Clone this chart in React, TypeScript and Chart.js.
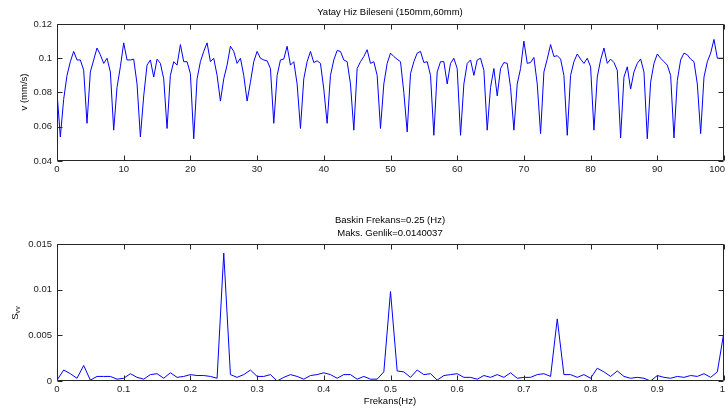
import React, { useEffect, useRef } from 'react';
import { Chart, registerables } from 'chart.js';
Chart.register(...registerables);

// ---- Data ----
const timeStep = 0.5; // s, sampling interval of the velocity record
const velocity = [
  0.080,
  0.054, 0.076, 0.090, 0.098, 0.104, 0.099, 0.099, 0.093,
  0.062, 0.092, 0.099, 0.106, 0.102, 0.097, 0.100, 0.092,
  0.058, 0.083, 0.095, 0.109, 0.099, 0.099, 0.0995, 0.085,
  0.054, 0.078, 0.096, 0.099, 0.089, 0.0995, 0.097, 0.088,
  0.059, 0.090, 0.098, 0.096, 0.108, 0.098, 0.098, 0.091,
  0.053, 0.088, 0.098, 0.104, 0.109, 0.098, 0.100, 0.090,
  0.075, 0.088, 0.096, 0.107, 0.104, 0.097, 0.100, 0.090,
  0.075, 0.086, 0.098, 0.104, 0.100, 0.099, 0.0985, 0.094,
  0.062, 0.090, 0.099, 0.0995, 0.107, 0.096, 0.098, 0.085,
  0.059, 0.088, 0.098, 0.104, 0.0975, 0.0985, 0.097, 0.082,
  0.062, 0.090, 0.099, 0.1045, 0.104, 0.099, 0.098, 0.085,
  0.058, 0.094, 0.098, 0.101, 0.105, 0.097, 0.098, 0.090,
  0.059, 0.085, 0.097, 0.103, 0.101, 0.0994, 0.098, 0.080,
  0.057, 0.091, 0.098, 0.103, 0.104, 0.0975, 0.098, 0.090,
  0.055, 0.092, 0.098, 0.098, 0.085, 0.097, 0.100, 0.094,
  0.055, 0.085, 0.097, 0.099, 0.090, 0.099, 0.100, 0.093,
  0.058, 0.083, 0.094, 0.078, 0.094, 0.0975, 0.097, 0.083,
  0.058, 0.085, 0.094, 0.110, 0.097, 0.0975, 0.1005, 0.085,
  0.056, 0.092, 0.0995, 0.108, 0.101, 0.1015, 0.0995, 0.090,
  0.055, 0.090, 0.098, 0.1025, 0.0995, 0.097, 0.100, 0.095,
  0.058, 0.089, 0.099, 0.106, 0.097, 0.0995, 0.0975, 0.093,
  0.0535, 0.089, 0.095, 0.082, 0.092, 0.097, 0.0996, 0.092,
  0.053, 0.086, 0.097, 0.1025, 0.100, 0.098, 0.096, 0.090,
  0.0535, 0.087, 0.099, 0.103, 0.102, 0.0995, 0.098, 0.085,
  0.056, 0.089, 0.098, 0.103, 0.111, 0.100, 0.100, 0.100,
];

const freqStep = 0.01; // Hz, spectral resolution
const spectrum = [
  0.0001, 0.0012, 0.0008, 0.0003, 0.0017, 0.0001, 0.0005, 0.0005, 0.0005, 0.0002,
  0.0003, 0.0008, 0.0004, 0.0002, 0.0007, 0.0008, 0.0003, 0.0009, 0.0004, 0.0005,
  0.0007, 0.0006, 0.0006, 0.0005, 0.0003, 0.0140037, 0.0007, 0.0004, 0.0007, 0.0012,
  0.0005, 0.0005, 0.0007, 0.0000, 0.0004, 0.0007, 0.0005, 0.0002, 0.0006, 0.0007,
  0.0009, 0.0007, 0.0003, 0.0007, 0.0007, 0.0002, 0.0005, 0.0002, 0.0002, 0.0010,
  0.0098, 0.0011, 0.0010, 0.0004, 0.0012, 0.0007, 0.0008, 0.0001, 0.0006, 0.0007,
  0.0008, 0.0004, 0.0004, 0.0002, 0.0006, 0.0004, 0.0007, 0.0004, 0.0009, 0.0003,
  0.0004, 0.0004, 0.0007, 0.0008, 0.0005, 0.0068, 0.0007, 0.0007, 0.0004, 0.0007,
  0.0003, 0.0014, 0.0010, 0.0005, 0.0011, 0.0005, 0.0003, 0.0004, 0.0003, 0.0000,
  0.0006, 0.0004, 0.0003, 0.0005, 0.0004, 0.0006, 0.0005, 0.0008, 0.0004, 0.0010,
  0.0054,
];

const xTicksTop = [0, 10, 20, 30, 40, 50, 60, 70, 80, 90, 100];
const yTicksTop = [0.04, 0.06, 0.08, 0.1, 0.12];
const xTicksBottom = [0, 0.1, 0.2, 0.3, 0.4, 0.5, 0.6, 0.7, 0.8, 0.9, 1];
const yTicksBottom = [0, 0.005, 0.01, 0.015];

const topTitle = 'Yatay Hiz Bileseni (150mm,60mm)';
const topYLabel = 'v (mm/s)';
const bottomTitle1 = 'Baskin Frekans=0.25 (Hz)';
const bottomTitle2 = 'Maks. Genlik=0.0140037';
const bottomXLabel = 'Frekans(Hz)';

const FONT = 'Arial, "Liberation Sans", Helvetica, sans-serif';
const TEXT = '#222';
const TICK_SIZE = 9.5;

type TextItem = { text: string; x: number; y: number; rot?: boolean; sub?: string; size?: number };

const framePlugin = {
  id: 'frame',
  afterDraw(chart: any, _args: any, opts: any) {
    const { ctx, chartArea: a, scales, width } = chart;
    const x = scales.x, y = scales.y;
    const L = Math.round(a.left) + 0.5, R = Math.round(a.right) - 0.5;
    const T = Math.round(a.top) + 0.5, B = Math.round(a.bottom) - 0.5;
    ctx.save();
    ctx.strokeStyle = '#262626';
    ctx.lineWidth = 1;
    ctx.beginPath();
    ctx.rect(L, T, R - L, B - T);
    const tl = 5;
    x.ticks.forEach((t: any) => {
      const p = Math.round(x.getPixelForValue(t.value)) + 0.5;
      ctx.moveTo(p, B); ctx.lineTo(p, B - tl);
      ctx.moveTo(p, T); ctx.lineTo(p, T + tl);
    });
    y.ticks.forEach((t: any) => {
      const p = Math.round(y.getPixelForValue(t.value)) + 0.5;
      ctx.moveTo(L, p); ctx.lineTo(L + tl, p);
      ctx.moveTo(R, p); ctx.lineTo(R - tl, p);
    });
    ctx.stroke();

    // x tick labels (kept inside the canvas)
    ctx.fillStyle = TEXT;
    ctx.font = `${TICK_SIZE}px ${FONT}`;
    ctx.textAlign = 'center';
    ctx.textBaseline = 'middle';
    x.ticks.forEach((t: any) => {
      const label = String(t.value);
      const w = ctx.measureText(label).width;
      let p = x.getPixelForValue(t.value);
      p = Math.min(p, width - 3 - w / 2);
      ctx.fillText(label, p, a.bottom + 8);
    });

    ctx.fillStyle = '#000';
    (opts.texts || []).forEach((it: TextItem) => {
      const size = it.size || 9.5;
      ctx.save();
      ctx.translate(it.x, it.y);
      if (it.rot) ctx.rotate(-Math.PI / 2);
      ctx.font = `${size}px ${FONT}`;
      ctx.textBaseline = 'middle';
      if (it.sub) {
        const w1 = ctx.measureText(it.text).width;
        ctx.font = `${size * 0.75}px ${FONT}`;
        const w2 = ctx.measureText(it.sub).width;
        const start = -(w1 + w2) / 2;
        ctx.font = `${size}px ${FONT}`;
        ctx.textAlign = 'left';
        ctx.fillText(it.text, start, 0);
        ctx.font = `${size * 0.75}px ${FONT}`;
        ctx.fillText(it.sub, start + w1, size * 0.35);
      } else {
        ctx.textAlign = 'center';
        ctx.fillText(it.text, 0, 0);
      }
      ctx.restore();
    });
    ctx.restore();
  },
};

function makeOptions(
  xMin: number, xMax: number, xTicks: number[],
  yMin: number, yMax: number, yTicks: number[],
  padTop: number, xAxisHeight: number, texts: TextItem[],
): any {
  return {
    responsive: false,
    animation: false,
    events: [],
    layout: { padding: { left: 0, right: 4, top: padTop, bottom: 0 } },
    plugins: {
      legend: { display: false },
      tooltip: { enabled: false },
      title: { display: false },
      frame: { texts },
    },
    scales: {
      x: {
        type: 'linear', min: xMin, max: xMax,
        grid: { display: false, drawTicks: false },
        border: { display: false },
        afterBuildTicks: (s: any) => { s.ticks = xTicks.map((v) => ({ value: v })); },
        afterFit: (s: any) => { s.height = xAxisHeight; s.paddingLeft = 0; s.paddingRight = 0; },
        ticks: { display: false, autoSkip: false, maxRotation: 0 },
      },
      y: {
        type: 'linear', min: yMin, max: yMax,
        grid: { display: false, drawTicks: false },
        border: { display: false },
        afterBuildTicks: (s: any) => { s.ticks = yTicks.map((v) => ({ value: v })); },
        afterFit: (s: any) => { s.width = 57; s.paddingTop = 0; s.paddingBottom = 0; },
        ticks: {
          autoSkip: false, padding: 5, color: TEXT,
          font: { family: FONT, size: TICK_SIZE },
          callback: (v: number) => String(v),
        },
      },
    },
  };
}

export default function App() {
  const topRef = useRef<HTMLCanvasElement>(null);
  const botRef = useRef<HTMLCanvasElement>(null);

  useEffect(() => {
    const velPts = velocity.map((v, i) => ({ x: i * timeStep, y: v }));
    const specPts = spectrum.map((v, i) => ({ x: i * freqStep, y: v }));

    const lineDs = (data: any[]) => ({
      data,
      borderColor: 'rgb(0,0,255)',
      borderWidth: 1,
      pointRadius: 0,
      tension: 0,
      fill: false,
    });

    const c1 = new Chart(topRef.current as HTMLCanvasElement, {
      type: 'line',
      data: { datasets: [lineDs(velPts)] },
      options: makeOptions(0, 100, xTicksTop, 0.04, 0.12, yTicksTop, 24, 39, [
        { text: topTitle, x: 390, y: 12 },
        { text: topYLabel, x: 24, y: 92, rot: true },
      ]),
      plugins: [framePlugin],
    } as any);

    const c2 = new Chart(botRef.current as HTMLCanvasElement, {
      type: 'line',
      data: { datasets: [lineDs(specPts)] },
      options: makeOptions(0, 1, xTicksBottom, 0, 0.015, yTicksBottom, 44, 29, [
        { text: bottomTitle1, x: 390, y: 20 },
        { text: bottomTitle2, x: 390, y: 33 },
        { text: bottomXLabel, x: 390, y: 201 },
        { text: 'S', sub: 'vv', x: 15, y: 113, rot: true },
      ]),
      plugins: [framePlugin],
    } as any);

    return () => { c1.destroy(); c2.destroy(); };
  }, []);

  return (
    <div style={{ position: 'absolute', left: 0, top: 0, width: 728, height: 410, background: '#fff' }}>
      <canvas ref={topRef} width={728} height={200} style={{ position: 'absolute', left: 0, top: 0, display: 'block' }} />
      <canvas ref={botRef} width={728} height={210} style={{ position: 'absolute', left: 0, top: 200, display: 'block' }} />
    </div>
  );
}
